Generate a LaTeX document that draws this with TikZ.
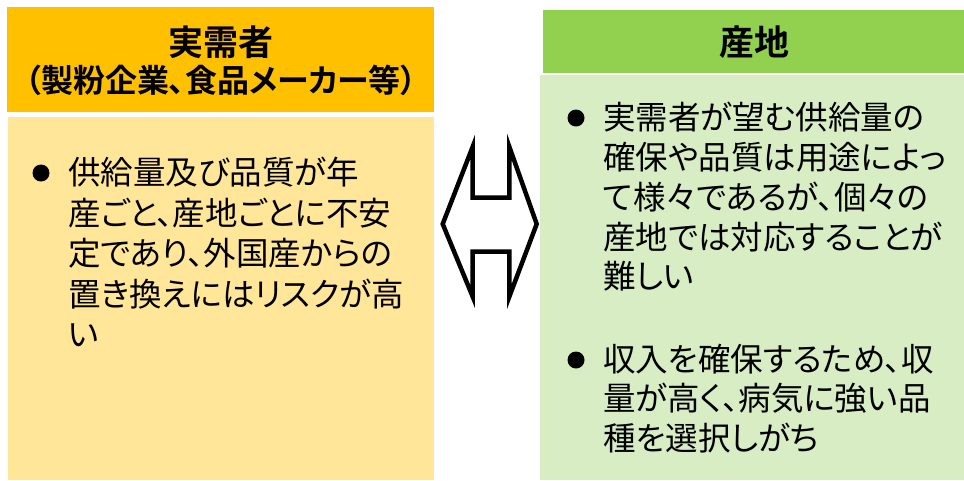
\documentclass[tikz,border=0pt]{standalone}
\usepackage{fontspec}
\setmainfont{Noto Sans CJK JP}[RawFeature=+palt]
\newfontfamily\jpb{Noto Sans CJK JP Bold}[RawFeature=+palt]
\definecolor{hdrL}{HTML}{FFC000}
\definecolor{bodyL}{HTML}{FFE699}
\definecolor{hdrR}{HTML}{92D050}
\definecolor{bodyR}{HTML}{D9EDC5}
\tikzset{
  x=1pt, y=-1pt,
  hdrtext/.style={font=\jpb\fontsize{35}{38}\selectfont, align=center, inner sep=0pt},
  bodytext/.style={font=\fontsize{32.5}{40.5}\selectfont, align=left, anchor=north west, inner sep=0pt},
  bulletdot/.style={circle, fill=black, minimum size=17pt, inner sep=0pt},
  arrowline/.style={draw=black, line width=4.5pt, fill=white, line join=miter}
}
\begin{document}
\begin{tikzpicture}
\useasboundingbox (0,0) rectangle (964,480);
% left panel
\fill[hdrL] (7,7) rectangle (434,112);
\fill[bodyL] (8,117) rectangle (434,480);
\node[hdrtext] (hl1) at (221,42) {実需者};
\node[hdrtext, font=\jpb\fontsize{32}{38}\selectfont] (hl2) at (221,80) {（製粉企業、食品メーカー等）};
\node[bulletdot] (bl1) at (41,173) {};
\node[bodytext] (tl1) at (68,157) {供給量及び品質が年\\産ごと、産地ごとに不安\\定であり、外国産からの\\置き換えにはリスクが高\\い};
% right panel
\fill[hdrR] (543,10) rectangle (964,73);
\fill[bodyR] (540,75) rectangle (964,480);
\node[hdrtext] (hr) at (754,42) {産地};
\node[bulletdot] (br1) at (576,118) {};
\node[bodytext, font=\fontsize{32.5}{39.8}\selectfont] (tr1) at (603,102) {実需者が望む供給量の\\確保や品質は用途によっ\\て様々であるが、個々の\\産地では対応することが\\難しい};
\node[bulletdot] (br2) at (576,360) {};
\node[bodytext, font=\fontsize{32.5}{39.3}\selectfont] (tr2) at (603,344) {収入を確保するため、収\\量が高く、病気に強い品\\種を選択しがち};
% double arrow
\draw[arrowline] (472.7,146.7) -- (442.7,224) -- (472.7,296.7) -- (472.7,251.5)
  -- (509.3,251.5) -- (509.3,296.7) -- (536.7,224) -- (509.3,146.7)
  -- (509.3,197.5) -- (472.7,197.5) -- cycle;
\end{tikzpicture}
\end{document}
